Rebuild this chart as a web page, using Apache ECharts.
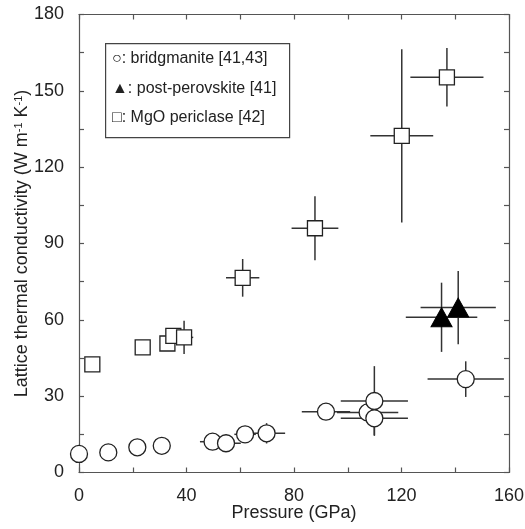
<!DOCTYPE html>
<html><head><meta charset="utf-8">
<script src="https://cdn.jsdelivr.net/npm/echarts@6/dist/echarts.min.js"></script>
<style>html,body{margin:0;padding:0;background:#fff}#c{width:525px;height:529px}</style>
</head><body><div id="c"></div>
<script>
// Bridgmanite [41,43]
const bridgX    = [0, 10.9, 21.7, 30.8, 49.7, 54.7, 61.8, 69.8, 91.9, 107.4, 109.9, 109.9, 143.9];
const bridgY    = [7.3, 7.9, 9.9, 10.5, 12.1, 11.5, 15.0, 15.4, 23.9, 23.6, 28.1, 21.3, 36.7];
const bridgXErr = [0, 0, 0, 0, 4.7, 5.5, 4, 6.9, 9, 11.4, 12.5, 12.5, 14.2];
const bridgYErr = [0, 0, 0, 0, 0, 0, 0, 4, 0, 0, 13.7, 6.6, 7];
// Post-perovskite [41]
const ppvX    = [134.9, 141.1];
const ppvY    = [61.0, 64.8];
const ppvXErr = [13.3, 14];
const ppvYErr = [13.6, 14.4];
// MgO periclase [42]
const mgoX    = [4.96, 23.7, 32.9, 35.1, 39.1, 60.9, 87.8, 120.1, 136.9];
const mgoY    = [42.5, 49.2, 50.7, 53.7, 53.1, 76.5, 96.0, 132.3, 155.3];
const mgoXErr = [0, 0, 0, 0, 3.4, 6.2, 8.7, 11.7, 13.6];
const mgoYErr = [0, 0, 0, 0, 6.5, 7.4, 12.6, 34, 11.5];
// Axis ticks
const xTicks = {min: 0, max: 160, interval: 40};
const yTicks = {min: 0, max: 180, interval: 30};
const legendLines = ['○: bridgmanite [41,43]', '▲: post-perovskite [41]', '□: MgO periclase [42]'];

const FONT = "'Liberation Sans', Arial, sans-serif";
const AXC = '#555';

function pts(xs, ys) { return xs.map((x, i) => [x, ys[i]]); }
function errs(xs, ys, xe, ye) { return xs.map((x, i) => [x, ys[i], xe[i], ye[i]]); }

const allErr = [].concat(
  errs(bridgX, bridgY, bridgXErr, bridgYErr),
  errs(ppvX, ppvY, ppvXErr, ppvYErr),
  errs(mgoX, mgoY, mgoXErr, mgoYErr)
);

function renderErr(params, api) {
  const x = api.value(0), y = api.value(1), xe = api.value(2), ye = api.value(3);
  const children = [];
  const st = {stroke: '#333', lineWidth: 1.5};
  if (xe > 0) {
    const a = api.coord([x - xe, y]), b = api.coord([x + xe, y]);
    children.push({type: 'line', shape: {x1: a[0], y1: a[1], x2: b[0], y2: b[1]}, style: st});
  }
  if (ye > 0) {
    const a = api.coord([x, y - ye]), b = api.coord([x, y + ye]);
    children.push({type: 'line', shape: {x1: a[0], y1: a[1], x2: b[0], y2: b[1]}, style: st});
  }
  return {type: 'group', children};
}

function axisCommon(show) {
  return {
    axisLine: {show: true, onZero: false, lineStyle: {color: AXC, width: 1.2}},
    axisTick: {show: true, inside: true, length: 5, lineStyle: {color: AXC, width: 1.2}},
    minorTick: {show: true, splitNumber: 2, length: 5, lineStyle: {color: AXC, width: 1.2}},
    splitLine: {show: false},
    axisLabel: {show: show, color: '#222', fontSize: 18, fontFamily: FONT}
  };
}

const chart = echarts.init(document.getElementById('c'), null, {renderer: 'canvas'});
chart.setOption({
  animation: false,
  backgroundColor: '#fff',
  grid: {left: 79, right: 16, top: 14.5, bottom: 56.5, containLabel: false, outerBoundsMode: 'none'},
  xAxis: [
    Object.assign({type: 'value', position: 'bottom', min: xTicks.min, max: xTicks.max, interval: xTicks.interval,
      name: 'Pressure (GPa)', nameLocation: 'middle', nameGap: 32, nameMoveOverlap: false,
      nameTextStyle: {fontSize: 18, color: '#222', fontFamily: FONT}}, axisCommon(true),
      {axisLabel: {show: true, color: '#222', fontSize: 18, fontFamily: FONT, margin: 15}}),
    Object.assign({type: 'value', position: 'top', min: xTicks.min, max: xTicks.max, interval: xTicks.interval}, axisCommon(false))
  ],
  yAxis: [
    Object.assign({type: 'value', position: 'left', min: yTicks.min, max: yTicks.max, interval: yTicks.interval,
      name: 'Lattice thermal conductivity (W m{sup|-1} K{sup|-1})', nameLocation: 'middle', nameGap: 48, nameRotate: 90,
      nameMoveOverlap: false,
      nameTextStyle: {fontSize: 18, color: '#222', fontFamily: FONT,
        rich: {sup: {fontSize: 11, color: '#222', fontFamily: FONT, verticalAlign: 'top', padding: [0, 0, 6, 0]}}}}, axisCommon(true),
      {axisLabel: {show: true, color: '#222', fontSize: 18, fontFamily: FONT, margin: 15}}),
    Object.assign({type: 'value', position: 'right', min: yTicks.min, max: yTicks.max, interval: yTicks.interval}, axisCommon(false))
  ],
  series: [
    {type: 'custom', name: 'errors', renderItem: renderErr, data: allErr, z: 1, clip: false,
      encode: {x: 0, y: 1}},
    {type: 'scatter', name: 'bridgmanite', data: pts(bridgX, bridgY), symbol: 'circle', symbolSize: 17, z: 3,
      itemStyle: {color: '#fff', borderColor: '#222', borderWidth: 1.3, opacity: 1}},
    {type: 'scatter', name: 'post-perovskite', data: pts(ppvX, ppvY), symbol: 'triangle', symbolSize: [21, 19], z: 3,
      itemStyle: {color: '#000', borderColor: '#000', borderWidth: 1, opacity: 1}},
    {type: 'scatter', name: 'MgO periclase', data: pts(mgoX, mgoY), symbol: 'rect', symbolSize: 15, z: 3,
      itemStyle: {color: '#fff', borderColor: '#222', borderWidth: 1.3, opacity: 1}}
  ],
  graphic: [
    {type: 'rect', left: 105, top: 43, shape: {width: 184, height: 94}, z: 10,
      style: {fill: '#fff', stroke: '#444', lineWidth: 1.2}},
    {type: 'text', left: 112, top: 51, z: 11, style: {text: legendLines[0], font: '16px ' + FONT, fill: '#222'}},
    {type: 'text', left: 112, top: 81, z: 11, style: {text: legendLines[1], font: '16px ' + FONT, fill: '#222'}},
    {type: 'text', left: 112, top: 110, z: 11, style: {text: legendLines[2], font: '16px ' + FONT, fill: '#222'}}
  ]
});
</script></body></html>
